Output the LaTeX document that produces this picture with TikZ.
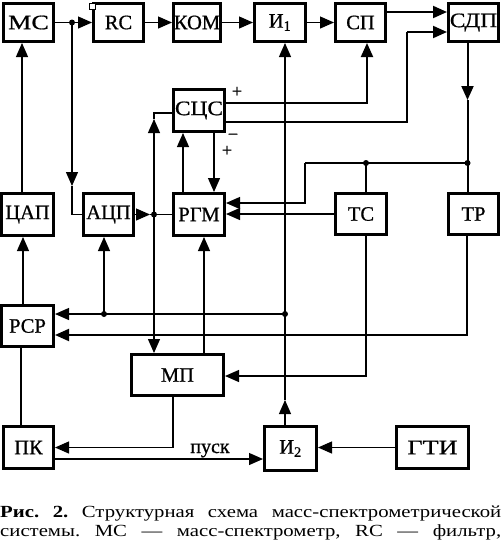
\documentclass[tikz,border=0pt]{standalone}
\usepackage{fontspec}
\setmainfont{Liberation Serif}
\newfontfamily\capfont[FakeStretch=1.22]{Liberation Serif}
\newfontfamily\lblfont[FakeBold=0.8]{Liberation Serif}
\newfontfamily\wideA[FakeStretch=1.28,FakeBold=0.8]{Liberation Serif}
\newfontfamily\wideB[FakeStretch=1.14,FakeBold=0.8]{Liberation Serif}
\usetikzlibrary{arrows.meta}
\frenchspacing
\begin{document}
\begin{tikzpicture}[x=1pt,y=-1pt,
  box/.style={draw, line width=3pt, inner sep=0pt, font=\lblfont\fontsize{20.5}{20}\selectfont},
  wire/.style={line width=1.2pt},
  thickw/.style={line width=2pt},
  tip/.tip={Triangle[length=14pt,width=12pt]},
  arr/.style={wire, -tip},
  jdot/.style={circle, fill, inner sep=0pt, minimum size=6pt},
  sign/.style={font=\lblfont\fontsize{18}{18}\selectfont, inner sep=0pt},
  captext/.style={anchor=base west, inner sep=0pt, font=\capfont\fontsize{17}{19}\selectfont}]
\useasboundingbox (0,0) rectangle (501,547);
% boxes
\node[box, minimum width=50pt, minimum height=38pt] (ms)  at (28.5,22.5) {\wideA МС};
\node[box, minimum width=50pt, minimum height=38pt] (rc)  at (118.5,22.5) {RC};
\node[box, minimum width=47pt, minimum height=38pt] (kom) at (197,22.5) {КОМ};
\node[box, minimum width=51pt, minimum height=38pt] (i1)  at (280,22.5) {И\textsubscript{1}};
\node[box, minimum width=50pt, minimum height=38pt] (sp)  at (360.5,22.5) {СП};
\node[box, minimum width=50pt, minimum height=38pt] (sdp) at (473.5,22.5) {\wideB СДП};
\node[box, minimum width=51pt, minimum height=42pt] (scs) at (199,110.5) {\wideB СЦС};
\node[box, minimum width=52pt, minimum height=42pt] (dac) at (27.5,214.5) {ЦАП};
\node[box, minimum width=50pt, minimum height=42pt] (adc) at (108.5,214.5) {АЦП};
\node[box, minimum width=51pt, minimum height=42pt] (rgm) at (199,214.5) {РГМ};
\node[box, minimum width=51pt, minimum height=41pt] (ts)  at (361,214) {ТС};
\node[box, minimum width=50pt, minimum height=41pt] (tr)  at (473.5,214) {ТР};
\node[box, minimum width=52pt, minimum height=41pt] (rsp) at (27.5,326) {РСР};
\node[box, minimum width=92pt, minimum height=41pt] (mp)  at (177.5,375) {МП};
\node[box, minimum width=50pt, minimum height=42pt] (pk)  at (28.5,447.5) {ПК};
\node[box, minimum width=52pt, minimum height=44pt] (i2)  at (290.5,448.5) {И\textsubscript{2}};
\node[box, minimum width=72pt, minimum height=42pt] (gti) at (432.5,447.5) {\wideA ГТИ};
% small square on RC
\node[draw, line width=1pt, fill=white, minimum size=6pt, inner sep=0pt] (sq) at ([yshift=-4pt]rc.north west) {};
% helper coordinates
\coordinate (j1) at (72,22.5);
\coordinate (m1) at (72,186);
\coordinate (k1) at (407,32);
\coordinate (m2) at (285,400);
\coordinate (j3) at (285,314);
\coordinate (j4) at (104,314);
\coordinate (m3) at (154,119);
\coordinate (m4) at (150,214.5);
\coordinate (j2) at (154,214.5);
\coordinate (m5) at (467.5,100);
\coordinate (j5) at (467.5,163);
\coordinate (j6) at (366,163);
\coordinate (k3) at (305,163);
% top chain
\draw[arr] (ms.east) -- (rc.west);
\draw[arr] (rc.east) -- (kom.west);
\draw[arr] (kom.east) -- (i1.west);
\draw[arr] (i1.east) -- (sp.west);
\draw[arr,thickw] ([yshift=10.5pt]sp.east) -- ([yshift=10.5pt]sdp.west);
% MS branch to ADC
\draw[arr] (j1) -- (m1);
\draw[wire] (m1) |- (adc.west);
% SCS outputs
\draw[arr,thickw] ([yshift=7.5pt]scs.east) -| ([xshift=6.5pt]sp.south);
\draw[wire,thickw] ([yshift=-11.5pt]scs.east) -| (k1);
\draw[arr,thickw] (k1) -- ([yshift=-9.5pt]sdp.west);
\node[sign] (plus1) at (237,92) {+};
\node[sign] (minus1) at (233,137) {−};
\node[sign] (plus2) at (227,151) {+};
% I2 -> I1
\draw[arr] ([xshift=-5.5pt]i2.north) -- (m2);
\draw[arr] (m2) -- ([xshift=5pt]i1.south);
% to RSR
\draw[arr] (j3) -- ([yshift=12pt]rsp.east);
\draw[arr] (j4) -- ([xshift=-4.5pt]adc.south);
\draw[arr,thickw] ([xshift=-6.5pt]tr.south) |- ([yshift=-9pt]rsp.east);
% TS -> MP
\draw[arr] ([xshift=5pt]ts.south) |- ([yshift=-1pt]mp.east);
% MP -> RGM
\draw[arr] ([xshift=26.5pt]mp.north) -- ([xshift=5pt]rgm.south);
% MP <-> SCS
\draw[wire,tip-tip] (m3) -- ([xshift=-23.5pt]mp.north);
\draw[wire] (m3) |- ([yshift=-2.5pt]scs.west);
% ADC -> RGM
\draw[arr] (adc.east) -- (m4);
\draw[wire] (m4) -- (rgm.west);
% RGM <-> SCS
\draw[arr] ([xshift=-16pt]rgm.north) -- ([xshift=-16pt]scs.south);
\draw[arr] ([xshift=15pt]scs.south) -- ([xshift=15pt]rgm.north);
% SDP -> TR
\draw[arr,thickw] ([xshift=-6pt]sdp.south) -- (m5);
\draw[thickw] (m5) -- ([xshift=-6pt]tr.north);
% TR/TS bus -> RGM
\draw[wire] (j5) -- (j6) -- (k3);
\draw[arr] (k3) |- ([yshift=11.5pt]rgm.east);
\draw[wire] ([xshift=5pt]ts.north) -- (j6);
\draw[arr] (ts.west) -- (ts.west -| rgm.east);
% DAC, RSR, PK
\draw[arr] ([xshift=-5.5pt]dac.north) -- ([xshift=-5.5pt]dac.north |- ms.south);
\draw[arr] ([xshift=-4.5pt]rsp.north) -- ([xshift=-4.5pt]rsp.north |- dac.south);
\draw[wire] ([xshift=-6.5pt]rsp.south) -- ([xshift=-6.5pt]rsp.south |- pk.north);
\draw[arr] ([xshift=-4.5pt]mp.south) |- (pk.east);
\draw[arr] ([yshift=-11.5pt]pk.east) -- ([yshift=-11.5pt]pk.east -| i2.west);
\node[font=\lblfont\fontsize{20}{20}\selectfont, anchor=base, inner sep=0pt] (pusk) at (210,453) {пуск};
\draw[arr] (gti.west) -- (gti.west -| i2.east);
% dots
\node[jdot] at (j1) {};
\node[jdot] at (j2) {};
\node[jdot] at (j3) {};
\node[jdot] at (j4) {};
\node[jdot] at (j5) {};
\node[jdot] at (j6) {};
% caption
\node[captext] (cap1) at (0,517)
  {\makebox[501pt][s]{\textbf{Рис. 2.} Структурная схема масс-спектрометрической}};
\node[captext] (cap2) at (0,536)
  {\makebox[501pt][s]{системы. МС — масс-спектрометр, RC — фильтр,}};
\end{tikzpicture}
\end{document}
